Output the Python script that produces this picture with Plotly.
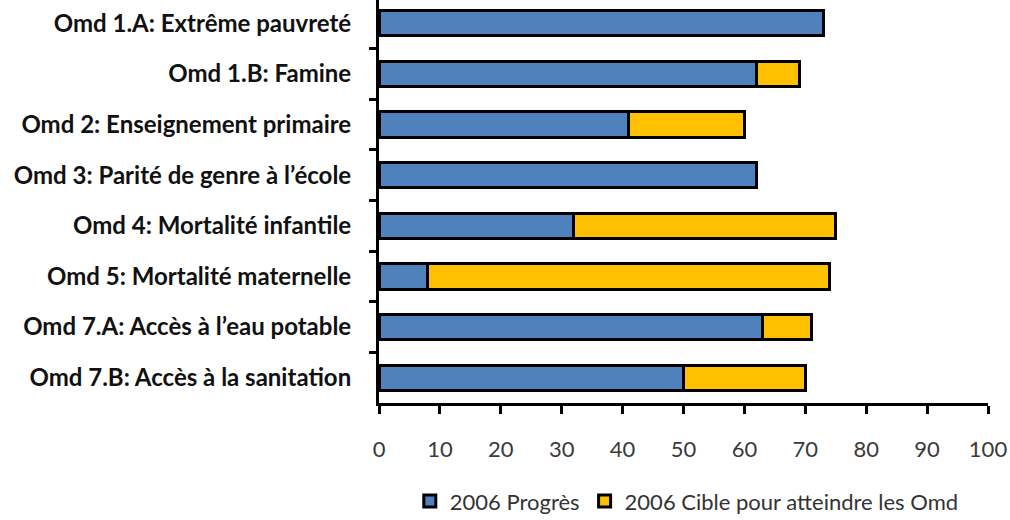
import plotly.graph_objects as go

categories = [
    "Omd 1.A: Extrême pauvreté",
    "Omd 1.B: Famine",
    "Omd 2: Enseignement primaire",
    "Omd 3: Parité de genre à l’école",
    "Omd 4: Mortalité infantile",
    "Omd 5: Mortalité maternelle",
    "Omd 7.A: Accès à l’eau potable",
    "Omd 7.B: Accès à la sanitation",
]
progres = [73, 62, 41, 62, 32, 8, 63, 50]
cible = [0, 7, 19, 0, 43, 66, 8, 20]
x_ticks = [0, 10, 20, 30, 40, 50, 60, 70, 80, 90, 100]

fig = go.Figure()
fig.add_trace(go.Bar(
    y=categories, x=progres, orientation="h", name="2006 Progrès",
    marker=dict(color="#4F81BD", line=dict(color="black", width=3)), width=0.5,
))
fig.add_trace(go.Bar(
    y=categories, x=cible, orientation="h", name="2006 Cible pour atteindre les Omd",
    marker=dict(color="#FFC000", line=dict(color="black", width=3)), width=0.5,
))

fig.update_layout(
    barmode="stack",
    width=1010, height=520,
    margin=dict(l=379, r=22, t=0, b=117),
    plot_bgcolor="white", paper_bgcolor="white",
    font=dict(family="Lato", color="#222222"),
    legend=dict(orientation="h", xref="container", x=0.68, xanchor="center",
                yref="container", y=0.036, yanchor="middle",
                font=dict(size=22, color="#333333"), traceorder="normal"),
    xaxis=dict(range=[0, 100], tickvals=x_ticks, showgrid=False, zeroline=False,
               showline=True, linecolor="black", linewidth=3,
               ticks="outside", ticklen=8, tickwidth=3, tickcolor="black",
               tickfont=dict(size=22, color="#3a3a3a"), ticklabelstandoff=17,
               automargin=False),
    yaxis=dict(type="category", categoryorder="array", categoryarray=categories,
               range=[7.5, -0.46], showgrid=False, zeroline=False,
               showline=True, linecolor="black", linewidth=3,
               ticks="outside", ticklen=7, tickwidth=3, tickcolor="black",
               tickson="boundaries", automargin=False,
               tickfont=dict(size=24, color="#111111", weight="bold"), ticklabelstandoff=20),
)

fig.write_html("out.html", config={"displayModeBar": False},
               post_script="document.body.style.margin='0';document.body.style.overflow='hidden';")
